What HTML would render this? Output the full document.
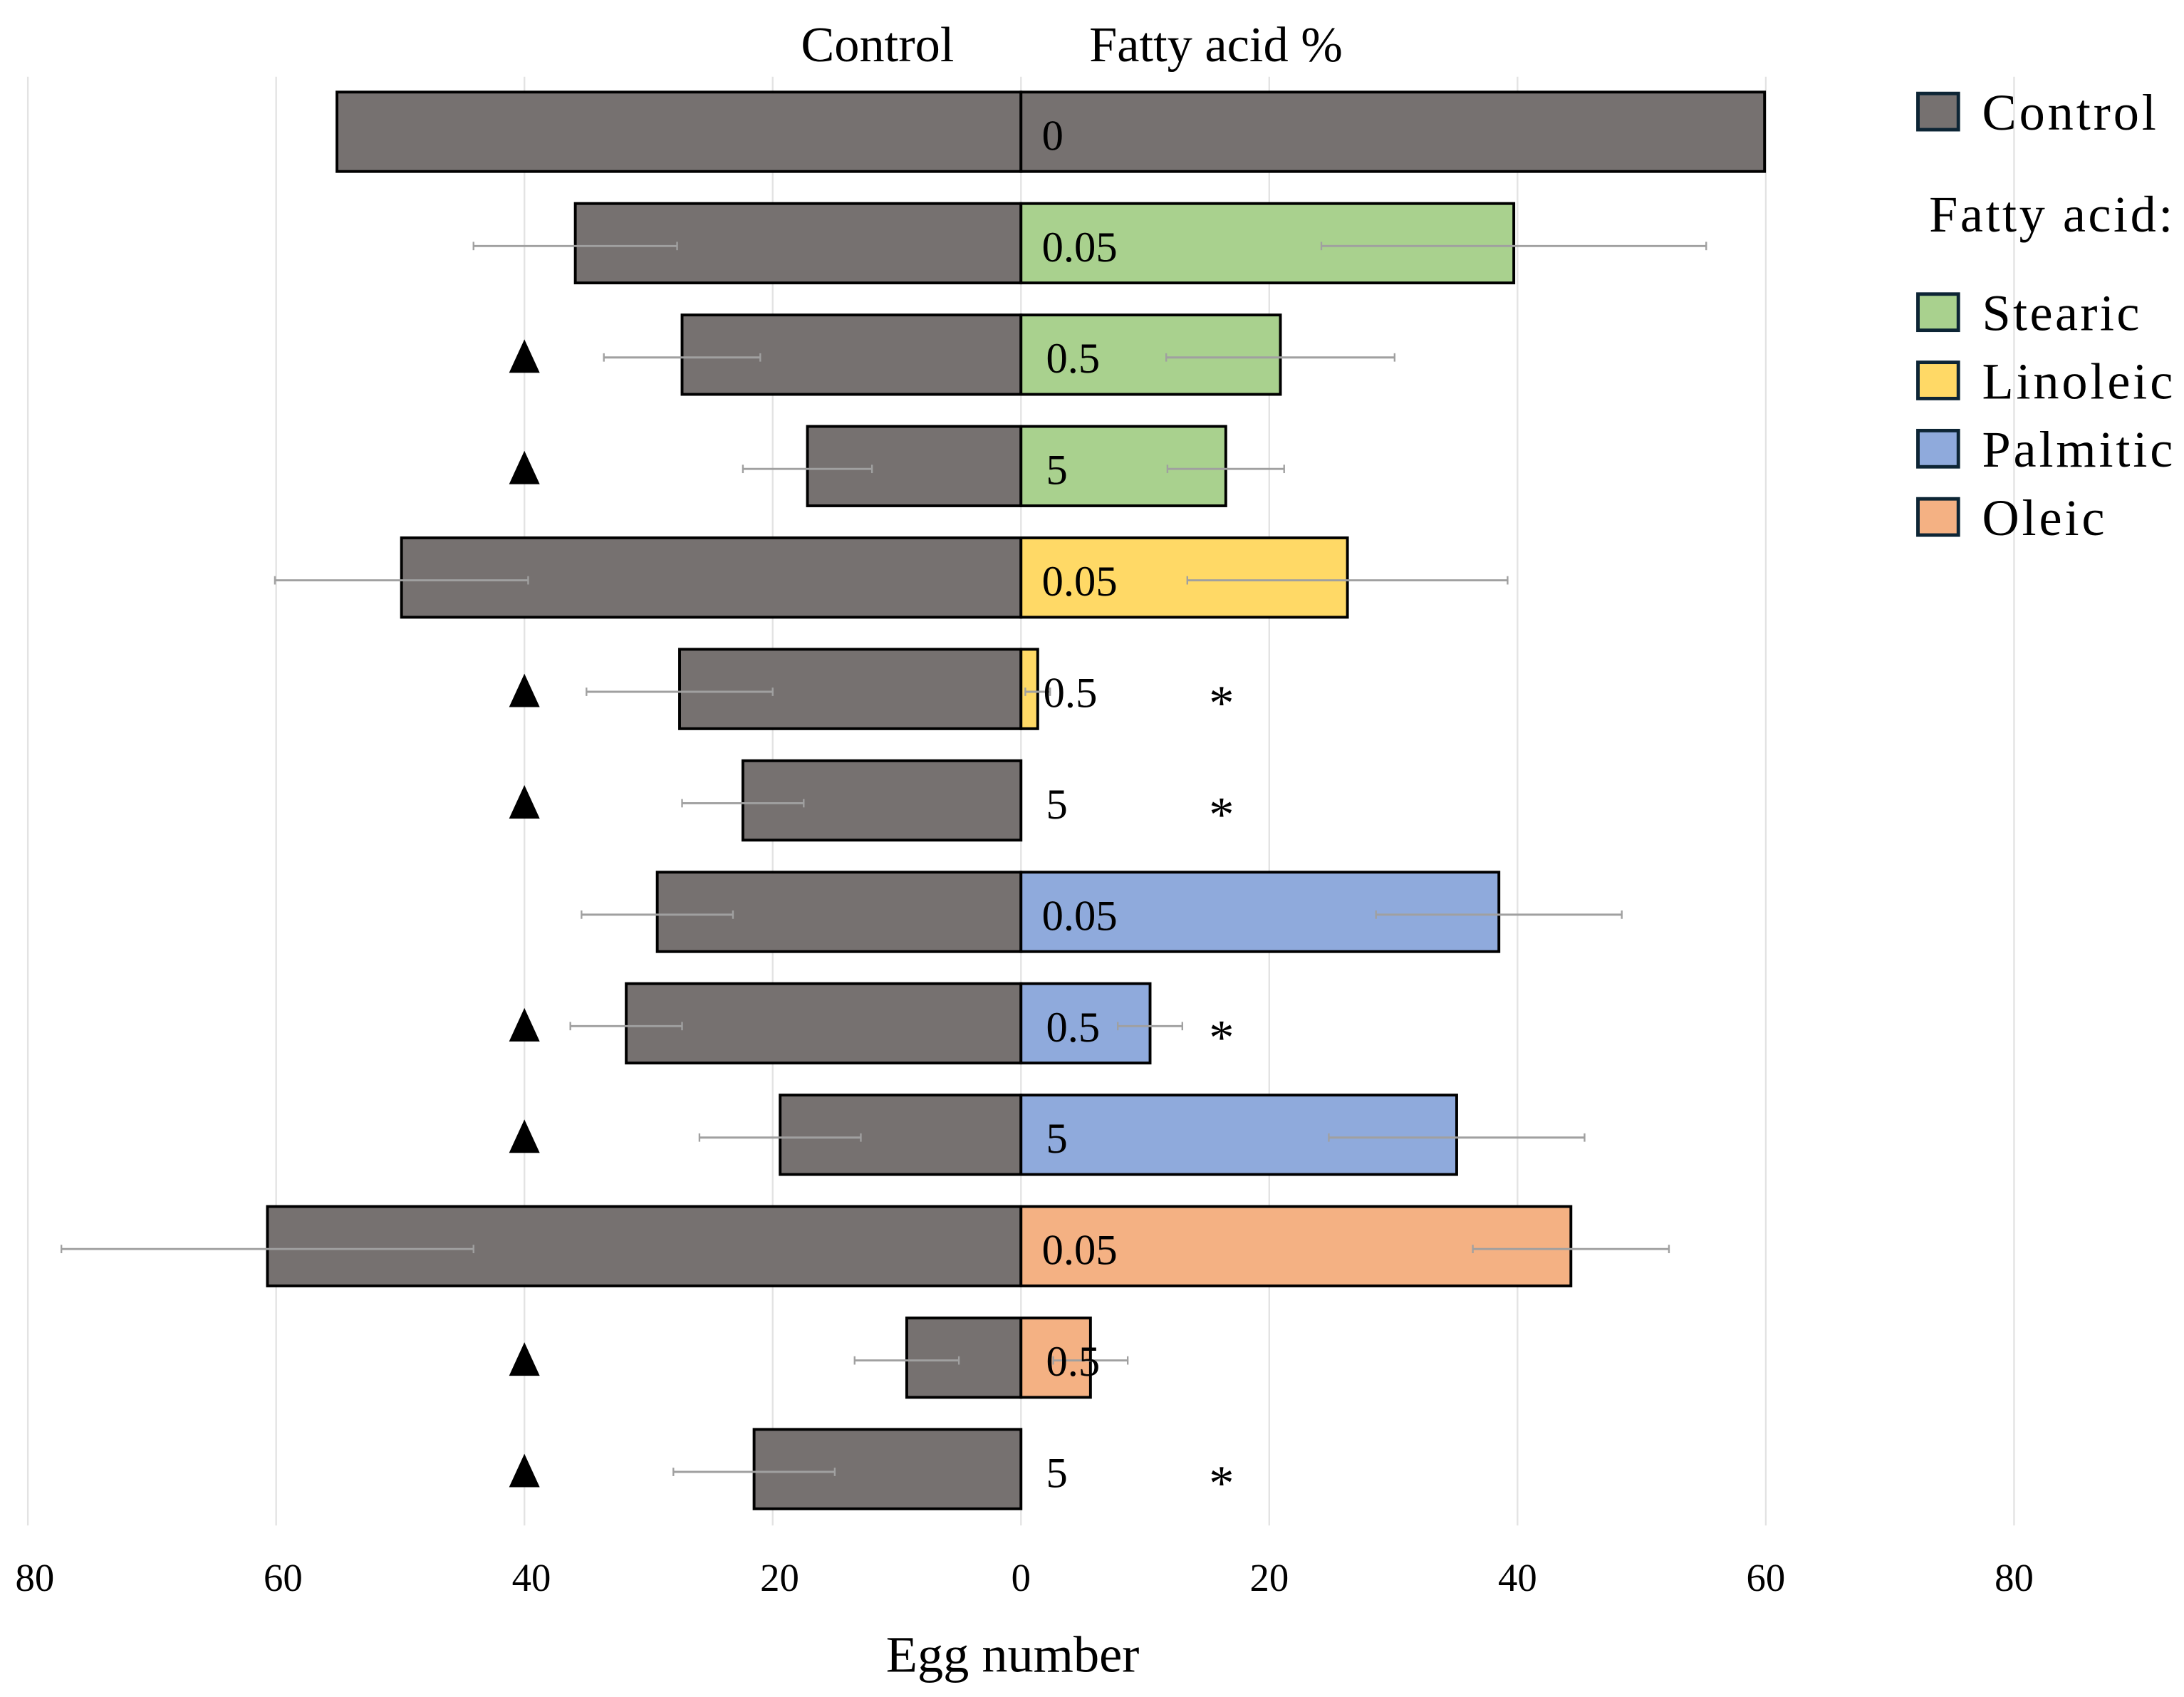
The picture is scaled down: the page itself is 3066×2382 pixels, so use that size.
<!DOCTYPE html>
<html><head><meta charset="utf-8"><style>
html,body{margin:0;padding:0;background:#fff;}
svg{display:block;}
text{font-family:"Liberation Serif",serif;fill:#000;}
</style></head><body>
<svg id="chart" width="3066" height="2382" viewBox="0 0 1568 1218" xmlns="http://www.w3.org/2000/svg">
<g id="grid"></g>
<g id="bars"></g>
<g id="axis"></g>
<text x="630" y="44" font-size="36" text-anchor="middle">Control</text>
<text x="873" y="44" font-size="36" text-anchor="middle">Fatty acid %</text>
<text x="727" y="1200" font-size="37" text-anchor="middle">Egg number</text>
<g id="legend">
<g><rect x="1377" y="67" width="29" height="26" fill="#767170" stroke="#0d2535" stroke-width="2.5"/><text x="1423" y="93" font-size="37" textLength="125">Control</text></g>
<text x="1385" y="166" font-size="37" textLength="175">Fatty acid:</text>
<g><rect x="1377" y="211" width="29" height="26" fill="#a9d18e" stroke="#0d2535" stroke-width="2.5"/><text x="1423" y="237" font-size="37" textLength="113">Stearic</text></g>
<g><rect x="1377" y="260" width="29" height="26" fill="#ffd966" stroke="#0d2535" stroke-width="2.5"/><text x="1423" y="286" font-size="37" textLength="137">Linoleic</text></g>
<g><rect x="1377" y="309" width="29" height="26" fill="#8faadc" stroke="#0d2535" stroke-width="2.5"/><text x="1423" y="335" font-size="37" textLength="137">Palmitic</text></g>
<g><rect x="1377" y="358" width="29" height="26" fill="#f4b183" stroke="#0d2535" stroke-width="2.5"/><text x="1423" y="384" font-size="37" textLength="88">Oleic</text></g>
</g>
</svg>
<script>
const doses = ["0","0.05","0.5","5","0.05","0.5","5","0.05","0.5","5","0.05","0.5","5"];
const acids = ["control","stearic","stearic","stearic","linoleic","linoleic","linoleic","palmitic","palmitic","palmitic","oleic","oleic","oleic"];
const controlValues = [55.1,35.9,27.3,17.2,49.9,27.5,22.4,29.3,31.8,19.4,60.7,9.2,21.5];
const controlErrors = [0,8.2,6.3,5.2,10.2,7.5,4.9,6.1,4.5,6.5,16.6,4.2,6.5];
const acidValues = [59.9,39.7,20.9,16.5,26.3,1.35,0,38.5,10.4,35.1,44.3,5.6,0];
const acidErrors = [0,15.5,9.2,4.7,12.9,1,0,9.9,2.6,10.3,7.9,3,0];
const triangleRows = [false,false,true,true,false,true,true,false,true,true,false,true,true];
const asteriskRows = [false,false,false,false,false,true,true,false,true,false,false,false,true];
const tickValues = [-80,-60,-40,-20,0,20,40,60,80];
const colors = {control:"#767170",stearic:"#a9d18e",linoleic:"#ffd966",palmitic:"#8faadc",oleic:"#f4b183"};

const NS="http://www.w3.org/2000/svg";
const x0=733, unit=8.9125;
const xs = v => x0 + v*unit;
const rowTop = i => 66 + i*80;
const barH = 57;
function mk(tag, attrs, parent){const e=document.createElementNS(NS,tag);for(const k in attrs)e.setAttribute(k,attrs[k]);parent.appendChild(e);return e;}
const grid=document.getElementById('grid'), bars=document.getElementById('bars'), axis=document.getElementById('axis');
tickValues.forEach(t=>{
  const l=mk('line',{x1:xs(t),x2:xs(t),y1:55,y2:1095,stroke:'#e3e3e3','stroke-width':1.2},grid);
  
  
  const tx=mk('text',{x:xs(t)+(t<0?5:0),y:1142,'font-size':28,'text-anchor':'middle'},axis);
  tx.textContent=Math.abs(t);
  
  
});
function errBar(c,e,y,g){
  if(!e) return;
  mk('line',{x1:xs(c-e),x2:xs(c+e),y1:y,y2:y,stroke:'#a0a0a0','stroke-width':1.5},g);
  mk('line',{x1:xs(c-e),x2:xs(c-e),y1:y-3,y2:y+3,stroke:'#a0a0a0','stroke-width':1.2},g);
  mk('line',{x1:xs(c+e),x2:xs(c+e),y1:y-3,y2:y+3,stroke:'#a0a0a0','stroke-width':1.2},g);
}
doses.forEach((d,i)=>{
  const y=rowTop(i), cy=y+barH/2+2;
  const g=mk('g',{},bars);
  
  
  const rc=mk('rect',{x:xs(-controlValues[i]),y:y,width:controlValues[i]*unit,height:barH,fill:colors.control,stroke:'#000','stroke-width':2},g);
  
  
  if(acidValues[i]>0){
    const ra=mk('rect',{x:x0,y:y,width:acidValues[i]*unit,height:barH,fill:colors[acids[i]],stroke:'#000','stroke-width':2},g);
    
    
  }
  errBar(-controlValues[i],controlErrors[i],cy,g);
  errBar(acidValues[i],acidErrors[i],cy,g);
  const lx = acidValues[i]>0 && acidValues[i]<3 ? xs(acidValues[i])+4 : (d==="5"||d==="0.5"?x0+18:x0+15);
  const t=mk('text',{x:lx,y:cy+11,'font-size':31},g);
  t.textContent=d;
  
  
  if(triangleRows[i]){
    const p=mk('polygon',{points:`${xs(-40)},${cy-13} ${xs(-40)-11},${cy+11} ${xs(-40)+11},${cy+11}`,fill:'#000'},g);
    
    
  }
  if(asteriskRows[i]){
    const a=mk('text',{x:877,y:cy+20,'font-size':36,'text-anchor':'middle'},g);
    a.textContent='*';
    
    
  }
});
</script>
</body></html>
